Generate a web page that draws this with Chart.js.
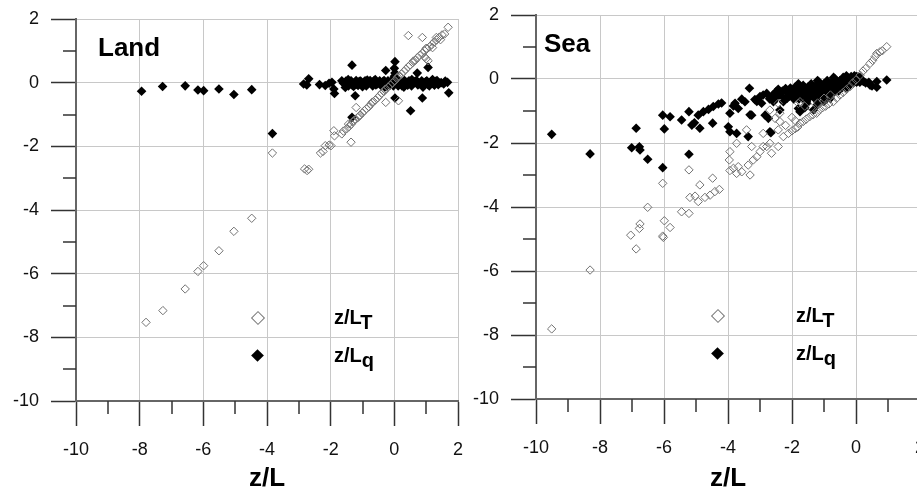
<!DOCTYPE html>
<html lang="en">
<head>
    <meta charset="UTF-8">
    <title>z/L Land and Sea</title>
    <script src="https://cdn.jsdelivr.net/npm/chart.js"></script>
    <style>
        body {
            margin: 0;
            background: #fff;
            width: 917px;
            height: 492px;
            overflow: hidden;
            position: relative;
            font-family: 'Liberation Sans', Arial, sans-serif;
        }
        canvas {
            position: absolute;
            top: 0;
        }
        #landChart { left: 0; }
        #seaChart { left: 460px; }
        .panel-title {
            position: absolute;
            font-weight: bold;
            font-size: 26px;
            line-height: 26px;
            color: #000;
        }
        .leg-mark {
            position: absolute;
            transform: rotate(45deg);
            box-sizing: border-box;
        }
        .leg-mark.open {
            width: 10px;
            height: 10px;
            border: 1.3px solid #777;
            background: #fff;
        }
        .leg-mark.filled {
            width: 9px;
            height: 9px;
            background: #000;
        }
        .leg-text {
            position: absolute;
            font-weight: bold;
            font-size: 20px;
            line-height: 20px;
            color: #000;
        }
        .leg-text span {
            position: relative;
            top: 5px;
        }
    </style>
</head>
<body>

    <canvas id="landChart" width="470" height="492"></canvas>
    <canvas id="seaChart" width="480" height="492"></canvas>

    <div class="panel-title" style="left:98px; top:34px;">Land</div>
    <div class="panel-title" style="left:544px; top:30px;">Sea</div>

    <div class="leg-mark open" style="left:253px; top:313px;"></div>
    <div class="leg-text" style="left:334px; top:307px;">z/L<span>T</span></div>
    <div class="leg-mark filled" style="left:253px; top:351px;"></div>
    <div class="leg-text" style="left:334px; top:345px;">z/L<span>q</span></div>

    <div class="leg-mark open" style="left:713px; top:311px;"></div>
    <div class="leg-text" style="left:796px; top:305px;">z/L<span>T</span></div>
    <div class="leg-mark filled" style="left:713px; top:349px;"></div>
    <div class="leg-text" style="left:796px; top:343px;">z/L<span>q</span></div>

    <script>
        // axis range and ticks (same for both panels)
        var axisMin = -10;
        var axisMax = 2;
        var majorStep = 2;
        var minorTickValues = [-9, -7, -5, -3, -1, 1];

        // Land: z/L_T (open diamonds)
        var landT = [
            [-7.8, -7.53], [-7.27, -7.16], [-6.57, -6.48], [-6.17, -5.93], [-5.99, -5.75],
            [-5.51, -5.28], [-5.04, -4.67], [-4.48, -4.26], [-3.83, -2.21],
            [-2.82, -2.71], [-2.74, -2.76], [-2.69, -2.72], [-2.32, -2.21], [-2.24, -2.16],
            [-2.17, -1.98], [-2.05, -1.96], [-1.99, -1.98], [-1.9, -1.51], [-1.88, -1.67],
            [-1.65, -1.61], [-1.6, -1.52], [-1.44, -1.3], [-1.36, -1.87], [-1.28, -1.19], [-1.2, -0.78],
            [-1.5, -1.45], [-1.42, -1.38], [-1.35, -1.3], [-1.3, -1.22], [-1.22, -1.16], [-1.15, -1.1],
            [-1.08, -1.02], [-1.0, -0.95], [-0.94, -0.88], [-0.88, -0.82], [-0.8, -0.76], [-0.74, -0.68],
            [-0.66, -0.6], [-0.6, -0.55], [-0.52, -0.47], [-0.46, -0.4], [-0.4, -0.33], [-0.33, -0.28],
            [-0.26, -0.2], [-0.2, -0.14], [-0.12, -0.08], [-0.06, 0.0], [0.02, 0.06], [0.08, 0.14],
            [0.15, 0.2], [0.22, 0.27], [0.3, 0.35], [0.36, 0.42], [0.44, 0.5], [0.5, 0.56],
            [0.58, 0.63], [0.66, 0.7], [0.72, 0.78], [0.8, 0.86], [0.88, 0.92], [0.95, 1.0],
            [1.02, 1.06], [1.1, 1.12], [1.18, 1.2], [1.25, 1.28], [1.33, 1.34], [1.4, 1.42], [1.5, 1.5],
            [-1.1, -1.05], [-0.7, -0.62], [-0.3, -0.22], [0.1, 0.18], [0.6, 0.68], [1.0, 1.08],
            [0.44, 1.48], [0.88, 1.42], [1.32, 1.42], [1.69, 1.74], [1.06, 0.69], [-0.27, -0.62],
            [0.13, -0.57], [1.2, 1.1], [1.45, 1.35], [0.96, 0.8], [1.58, 1.53], [1.0, 0.75]
        ];

        // Land: z/L_q (filled diamonds)
        var landQ = [
            [-7.94, -0.27], [-7.28, -0.12], [-6.57, -0.1], [-6.17, -0.23], [-5.99, -0.25],
            [-5.51, -0.2], [-5.04, -0.37], [-4.48, -0.22], [-3.83, -1.6],
            [-2.85, -0.04], [-2.75, -0.07], [-2.69, 0.12], [-2.35, -0.06], [-2.17, -0.09],
            [-2.05, -0.02], [-1.96, 0.01], [-1.88, -0.34], [-1.9, -0.2], [-1.65, 0.06],
            [-1.54, -0.15], [-1.33, 0.55], [-1.23, -0.41], [-1.33, -1.09],
            [-1.48, -0.04], [-1.4, 0.03], [-1.32, -0.08], [-1.25, 0.0], [-1.18, -0.05], [-1.1, 0.04],
            [-1.02, -0.06], [-0.95, 0.01], [-0.88, -0.1], [-0.8, 0.03], [-0.72, -0.04], [-0.65, 0.05],
            [-0.58, -0.07], [-0.5, 0.0], [-0.42, -0.09], [-0.35, 0.04], [-0.28, -0.03], [-0.2, 0.06],
            [-0.14, -0.08], [-0.06, 0.02], [0.0, -0.05], [0.06, 0.04], [0.12, -0.1], [0.2, 0.0],
            [0.28, -0.06], [0.35, 0.03], [0.42, -0.08], [0.5, 0.02], [0.58, -0.04], [0.66, 0.05],
            [0.74, -0.07], [0.82, 0.0], [0.9, -0.05], [0.98, 0.03], [1.06, -0.06], [1.14, 0.01],
            [1.22, -0.03], [1.3, 0.04], [1.38, -0.06], [1.47, 0.0],
            [-1.6, -0.02], [-1.52, 0.05], [-1.44, -0.1], [-1.36, 0.06], [-1.28, -0.12], [-1.2, 0.07],
            [-1.14, -0.09], [-1.06, 0.05], [-0.98, -0.02], [-0.92, 0.06], [-0.84, -0.05], [-0.76, 0.07],
            [-0.68, -0.1], [-0.62, 0.02], [-0.54, -0.04], [-0.46, 0.06], [-0.38, -0.05], [-0.32, 0.07],
            [-0.24, -0.1], [-0.17, 0.02], [-0.1, 0.05], [-0.03, -0.1], [0.03, 0.07], [0.09, -0.03],
            [0.16, 0.06], [0.24, -0.1], [0.32, 0.07], [0.38, -0.03], [0.46, 0.06], [0.54, -0.1],
            [0.62, 0.0], [0.7, 0.07], [0.78, -0.03], [0.86, 0.06], [0.94, -0.09], [1.02, 0.06],
            [1.1, -0.1], [1.18, 0.06], [1.26, -0.08], [1.34, 0.07], [1.42, -0.02], [1.55, -0.04], [1.6, 0.05],
            [-1.0, -0.13], [-0.6, 0.1], [-0.3, -0.14], [0.0, 0.12], [0.3, -0.14], [0.55, 0.1],
            [0.9, -0.14], [1.2, 0.1], [-1.45, 0.1], [-0.85, 0.08],
            [0.0, 0.2], [0.02, 0.3], [0.0, 0.45], [0.02, 0.66],
            [-0.27, 0.38], [0.02, -0.48], [0.51, -0.88], [0.72, 0.3], [1.06, 0.48], [0.88, -0.48],
            [1.67, 0.01], [1.71, -0.32]
        ];

        // Sea: z/L_T (open diamonds)
        var seaT = [
            [-9.51, -7.81], [-8.31, -5.97], [-6.87, -5.31], [-7.04, -4.88], [-6.77, -4.67],
            [-6.75, -4.53], [-6.51, -4.01], [-6.04, -3.26], [-6.04, -4.91], [-6.02, -4.95],
            [-5.99, -4.43], [-5.81, -4.64], [-5.45, -4.15], [-5.22, -4.2], [-5.22, -2.84],
            [-5.19, -3.7], [-5.03, -3.66], [-4.93, -3.83], [-4.88, -3.31], [-4.72, -3.7],
            [-4.56, -3.63], [-4.48, -3.1], [-4.41, -3.52], [-4.27, -3.45], [-3.94, -2.27],
            [-3.96, -2.53], [-3.94, -2.86], [-3.73, -2.01], [-3.83, -2.79], [-3.68, -2.74],
            [-3.73, -2.95], [-3.57, -2.9], [-3.42, -1.59], [-3.37, -2.69], [-3.31, -3.0],
            [-3.26, -2.11], [-3.21, -2.53], [-3.1, -2.43], [-3.0, -2.27], [-2.9, -1.7],
            [-2.9, -2.11], [-2.79, -2.11], [-2.69, -2.01], [-2.64, -2.32], [-2.53, -1.23],
            [-2.43, -1.59], [-2.38, -1.07], [-2.43, -2.11], [-2.27, -1.8], [-2.11, -1.7],
            [-2.43, -0.76], [-1.8, -0.76], [-2.38, -1.33], [-2.69, -0.97],
            [-2.0, -1.62], [-1.9, -1.55], [-1.82, -1.5], [-1.75, -1.38], [-1.65, -1.33],
            [-1.55, -1.25], [-1.45, -1.18], [-1.35, -1.12], [-1.23, -1.07], [-1.15, -0.98],
            [-1.05, -0.9], [-0.95, -0.85], [-0.85, -0.78], [-0.71, -0.71], [-0.6, -0.6],
            [-0.5, -0.5], [-0.4, -0.42], [-0.3, -0.33], [-0.19, -0.24], [-0.1, -0.12],
            [0.0, -0.03], [0.13, 0.12], [0.22, 0.25], [0.3, 0.33], [0.44, 0.49], [0.52, 0.58],
            [0.6, 0.7], [0.65, 0.8], [0.75, 0.85], [0.82, 0.88], [0.96, 1.01],
            [-1.75, -0.71], [-1.6, -0.85], [-1.4, -0.9], [-1.2, -0.75], [-1.0, -0.6],
            [-0.8, -0.5], [-2.0, -1.2], [-1.9, -1.3], [-2.2, -1.45]
        ];

        // Sea: z/L_q (filled diamonds)
        var seaQ = [
            [-9.51, -1.73], [-8.31, -2.34], [-7.01, -2.15], [-6.87, -1.54], [-6.77, -2.12],
            [-6.75, -2.22], [-6.51, -2.51], [-6.04, -2.77], [-6.04, -1.13], [-5.99, -1.56],
            [-5.81, -1.18], [-5.45, -1.28], [-5.22, -1.02], [-5.22, -2.35], [-5.13, -1.44],
            [-5.05, -1.37], [-4.93, -1.13], [-4.88, -1.54], [-4.77, -1.02], [-4.61, -0.95],
            [-4.46, -0.86], [-4.3, -0.78], [-4.48, -1.38], [-4.2, -0.75], [-3.94, -1.07],
            [-3.83, -0.84], [-3.78, -0.76], [-3.99, -1.49], [-3.94, -1.65], [-3.73, -1.7],
            [-3.68, -0.92], [-3.57, -0.63], [-3.47, -0.71], [-3.37, -1.8], [-3.33, -0.29],
            [-3.26, -1.13], [-3.16, -0.64], [-3.31, -1.12], [-2.95, -0.76], [-2.9, -0.5],
            [-2.84, -1.13], [-2.79, -0.45], [-2.74, -1.23], [-2.69, -1.65], [-2.66, -1.68],
            [-2.58, -0.71], [-2.43, -0.32], [-2.38, -0.97], [-2.27, -0.71], [-2.11, -0.45],
            [-2.6, -0.5], [-2.5, -0.6], [-2.35, -0.5], [-2.3, -0.38], [-2.5, -0.4],
            [-2.7, -0.62], [-3.0, -0.55], [-3.1, -0.7], [-2.2, -0.6],
            [-2.2, -0.3], [-2.1, -0.55], [-2.0, -0.35], [-1.95, -0.62], [-1.9, -0.25],
            [-1.85, -0.45], [-1.8, -0.92], [-1.75, -0.3], [-1.7, -0.55], [-1.65, -0.2],
            [-1.6, -0.4], [-1.55, -0.7], [-1.5, -0.25], [-1.45, -0.5], [-1.4, -0.15],
            [-1.35, -0.35], [-1.3, -0.6], [-1.25, -0.2], [-1.2, -0.42], [-1.15, -0.1],
            [-1.1, -0.3], [-1.05, -0.52], [-1.0, -0.15], [-0.95, -0.35], [-0.9, -0.05],
            [-0.85, -0.25], [-0.8, -0.45], [-0.75, -0.1], [-0.7, -0.3], [-0.65, 0.0],
            [-0.6, -0.2], [-0.55, -0.38], [-0.5, -0.05], [-0.45, -0.22], [-0.4, 0.05],
            [-0.35, -0.12], [-0.3, -0.28], [-0.25, 0.03], [-0.2, -0.1], [-0.15, 0.08],
            [-0.1, -0.05], [-0.05, 0.1], [0.0, -0.02], [0.05, 0.05], [0.1, -0.05], [0.15, 0.0],
            [-2.15, -0.4], [-2.15, -0.6], [-2.05, -0.28], [-2.05, -0.48], [-1.95, -0.42],
            [-1.88, -0.33], [-1.88, -0.55], [-1.78, -0.4], [-1.78, -0.62], [-1.68, -0.32],
            [-1.68, -0.46], [-1.58, -0.28], [-1.58, -0.55], [-1.48, -0.38], [-1.48, -0.6],
            [-1.38, -0.25], [-1.38, -0.45], [-1.28, -0.32], [-1.28, -0.5], [-1.18, -0.28],
            [-1.18, -0.55], [-1.08, -0.18], [-1.08, -0.42], [-0.98, -0.25], [-0.98, -0.48],
            [-0.88, -0.15], [-0.88, -0.38], [-0.78, -0.2], [-0.78, -0.35], [-0.68, -0.12],
            [-0.68, -0.4], [-0.58, -0.08], [-0.58, -0.28], [-0.48, -0.15], [-0.48, -0.3],
            [-0.38, -0.05], [-0.38, -0.2], [-0.28, -0.15], [-0.28, 0.0], [-0.18, 0.0],
            [-0.18, -0.18], [-0.08, 0.05], [-0.08, -0.12], [0.02, 0.08], [0.02, -0.1],
            [0.12, 0.05], [0.12, -0.1],
            [-1.8, -0.15], [-1.2, -0.05], [-0.7, 0.05], [-0.3, 0.1],
            [-1.75, -1.02], [-1.54, -0.76], [-1.33, -0.97], [-1.2, -0.8], [-1.0, -0.7],
            [-1.6, -0.9], [-0.8, -0.6],
            [0.23, -0.08], [0.3, -0.12], [0.44, -0.19], [0.5, -0.22], [0.65, -0.08],
            [0.65, -0.26], [0.96, -0.03], [0.4, -0.1]
        ];

        function toPoints(list) {
            return list.map(function (p) { return { x: p[0], y: p[1] }; });
        }

        // short ticks at the odd values, the long ones come from Chart.js
        var minorTicks = {
            id: 'minorTicks',
            afterDraw: function (chart) {
                var ctx = chart.ctx;
                var a = chart.chartArea;
                var xs = chart.scales.x;
                var ys = chart.scales.y;
                ctx.save();
                ctx.strokeStyle = '#333';
                ctx.lineWidth = 1.5;
                ctx.beginPath();
                minorTickValues.forEach(function (v) {
                    var px = Math.round(xs.getPixelForValue(v));
                    ctx.moveTo(px, a.bottom);
                    ctx.lineTo(px, a.bottom + 13);
                    var py = Math.round(ys.getPixelForValue(v));
                    ctx.moveTo(a.left, py);
                    ctx.lineTo(a.left - 13, py);
                });
                ctx.stroke();
                ctx.restore();
            }
        };

        // keep the plot box where the layout padding puts it
        function noLabelOverhang(s) {
            s.paddingTop = 0;
            s.paddingBottom = 0;
            s.paddingLeft = 0;
            s.paddingRight = 0;
        }

        function makePanel(id, tList, qList, pad, xHeight) {
            var tickFont = { family: "'Liberation Sans', Arial, sans-serif", size: 18 };
            var gridOpts = {
                color: '#c8c8c8',
                lineWidth: 1,
                tickLength: 25,
                tickColor: '#333',
                tickWidth: 1.5
            };
            return new Chart(document.getElementById(id), {
                type: 'scatter',
                data: {
                    datasets: [{
                        label: 'z/LT',
                        data: toPoints(tList),
                        pointStyle: 'rectRot',
                        pointRadius: 4.2,
                        borderWidth: 1,
                        borderColor: '#727272',
                        backgroundColor: 'rgba(255,255,255,0)'
                    }, {
                        label: 'z/Lq',
                        data: toPoints(qList),
                        pointStyle: 'rectRot',
                        pointRadius: 4.8,
                        borderWidth: 0,
                        borderColor: '#000',
                        backgroundColor: '#000'
                    }]
                },
                options: {
                    responsive: false,
                    animation: false,
                    layout: { padding: pad },
                    plugins: {
                        legend: { display: false },
                        tooltip: { enabled: false }
                    },
                    scales: {
                        x: {
                            min: axisMin,
                            max: axisMax,
                            afterFit: function (s) { s.height = xHeight; noLabelOverhang(s); },
                            ticks: { stepSize: majorStep, color: '#111', font: tickFont, padding: 13, maxRotation: 0 },
                            grid: gridOpts,
                            border: { color: '#666', width: 2 },
                            title: {
                                display: true,
                                text: 'z/L',
                                color: '#000',
                                font: { family: "'Liberation Sans', Arial, sans-serif", size: 26, weight: 'bold' },
                                padding: { top: 0, bottom: -2 }
                            }
                        },
                        y: {
                            min: axisMin,
                            max: axisMax,
                            afterFit: function (s) { s.width = 76; noLabelOverhang(s); },
                            ticks: { stepSize: majorStep, color: '#111', font: tickFont, padding: 12 },
                            grid: gridOpts,
                            border: { color: '#666', width: 2 }
                        }
                    }
                },
                plugins: [minorTicks]
            });
        }

        var landChart = makePanel('landChart', landT, landQ, { left: 0, right: 12, top: 19, bottom: 0 }, 91);
        var seaChart = makePanel('seaChart', seaT, seaQ, { left: 0, right: 20, top: 15, bottom: 0 }, 93);
    </script>

</body>
</html>
